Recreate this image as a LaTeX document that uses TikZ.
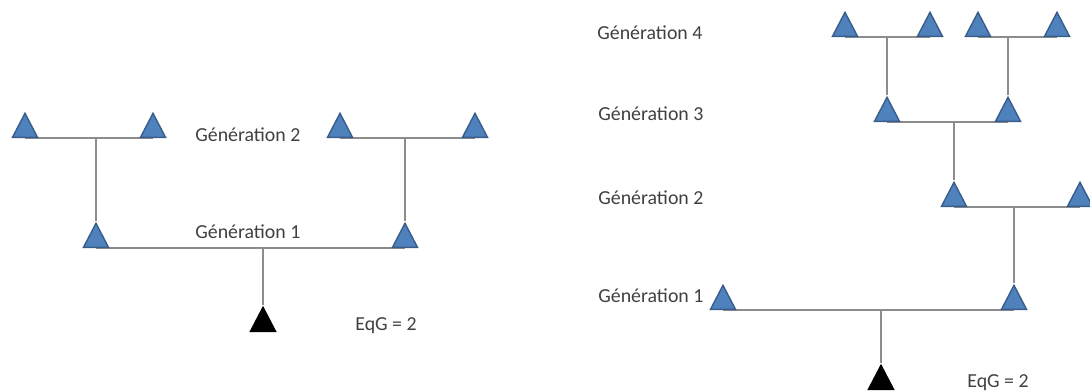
\documentclass[tikz,border=0pt]{standalone}
\usepackage{fontspec}
\setmainfont{Carlito}
\usetikzlibrary{positioning,shapes.geometric,backgrounds}
\tikzstyle{pedigree} = [x = 0.02cm, y = -0.02cm]
\definecolor{personColor}{RGB}{79,129,189}
\definecolor{personBorder}{RGB}{56,93,138}
\definecolor{linkColor}{RGB}{140,140,140}
\definecolor{labelColor}{RGB}{64,64,64}
\tikzstyle{personStyle} = [isosceles triangle, shape border rotate=90, isosceles triangle stretches, minimum width=0.5cm, minimum height=0.48cm, inner sep=0pt, fill=personColor, draw=personBorder, thick, anchor=south]
\tikzstyle{egoStyle} = [personStyle, fill=black, draw=black]
\tikzstyle{linkLine} = [color=linkColor, line width=.6pt]
\tikzstyle{genLabel} = [font=\fontsize{11.3}{13}\selectfont, text=labelColor, anchor=base west, inner sep=0pt]
\newcommand{\person}[3]{\node [personStyle] (#1) at (#2,#3) {};}
\newcommand{\ego}[3]{\node [egoStyle] (#1) at (#2,#3) {};}
\newcommand{\parents}[3]{
  \draw [linkLine] (#1.south) -- (#2.south);
  \draw [linkLine] (#3.north) -- (#3.north |- #1.south);
}
\begin{document}
\begin{tikzpicture}[pedigree]
  \useasboundingbox (0,0) rectangle (1090,390);

  \person{lA}{25}{138}
  \person{lB}{153}{138}
  \person{lC}{340}{138}
  \person{lD}{475}{138}
  \person{lE}{96}{248}
  \person{lF}{405}{248}
  \ego{lEgo}{263}{332}
  \node [genLabel] (lGenTwo) at (195,141) {Génération 2};
  \node [genLabel] (lGenOne) at (195,238) {Génération 1};
  \node [genLabel] (lEqG) at (355,330) {EqG = 2};

  \person{rA}{845}{37}
  \person{rB}{930}{37}
  \person{rC}{978}{37}
  \person{rD}{1057}{37}
  \person{rE}{887}{122}
  \person{rF}{1008}{122}
  \person{rG}{954}{207}
  \person{rH}{1080}{207}
  \person{rI}{723}{310}
  \person{rJ}{1014}{310}
  \ego{rEgo}{881}{390}
  \node [genLabel] (rGenFour) at (597,39) {Génération 4};
  \node [genLabel] (rGenThree) at (598,120) {Génération 3};
  \node [genLabel] (rGenTwo) at (598,204) {Génération 2};
  \node [genLabel] (rGenOne) at (598,302) {Génération 1};
  \node [genLabel] (rEqG) at (967,387) {EqG = 2};

  \begin{scope}[on background layer]
    \parents{lA}{lB}{lE}
    \parents{lC}{lD}{lF}
    \parents{lE}{lF}{lEgo}
    \parents{rA}{rB}{rE}
    \parents{rC}{rD}{rF}
    \parents{rE}{rF}{rG}
    \parents{rG}{rH}{rJ}
    \parents{rI}{rJ}{rEgo}
  \end{scope}
\end{tikzpicture}
\end{document}
